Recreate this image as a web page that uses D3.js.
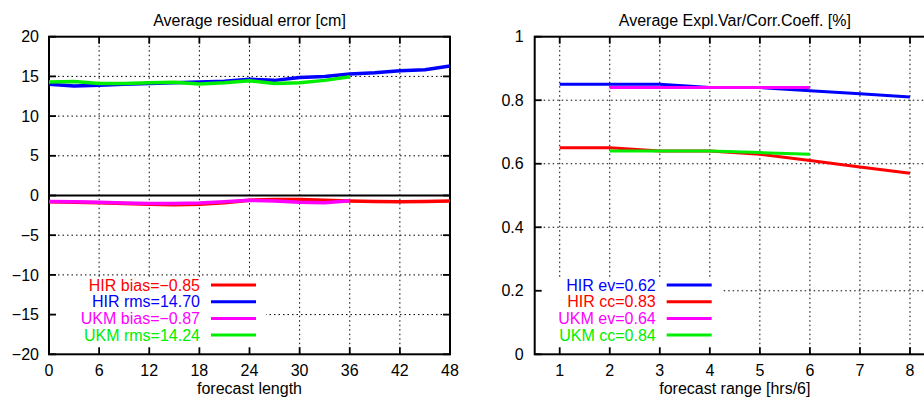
<!DOCTYPE html>
<html>
<head>
<meta charset="utf-8">
<script src="https://cdn.jsdelivr.net/npm/d3@7"></script>
<style>
  body { margin: 0; background: #fff; }
  svg { display: block; font-family: "Liberation Sans", Arial, sans-serif; }
</style>
</head>
<body>
<svg id="chart" width="924" height="397"></svg>
<script>
// ---------------------------------------------------------------------------
// DATA
// ---------------------------------------------------------------------------

// Left panel: forecast length in hours
var hoursHir = [0, 3, 6, 9, 12, 15, 18, 21, 24, 27, 30, 33, 36, 39, 42, 45, 48];
var hoursUkm = [0, 3, 6, 9, 12, 15, 18, 21, 24, 27, 30, 33, 36];
var hirBias = [-0.8, -0.85, -0.9, -1.0, -1.1, -1.15, -1.1, -0.9, -0.6, -0.5, -0.5, -0.6, -0.7, -0.75, -0.8, -0.75, -0.7];
var hirRms = [14.0, 13.8, 13.9, 14.0, 14.1, 14.2, 14.3, 14.4, 14.65, 14.5, 14.85, 15.0, 15.3, 15.45, 15.7, 15.85, 16.3];
var ukmBias = [-0.75, -0.8, -0.85, -0.95, -1.0, -1.0, -0.95, -0.8, -0.6, -0.7, -0.85, -0.9, -0.65];
var ukmRms = [14.3, 14.35, 14.1, 14.1, 14.2, 14.25, 14.05, 14.2, 14.45, 14.1, 14.2, 14.5, 14.95];

var leftXTicks = [0, 6, 12, 18, 24, 30, 36, 42, 48];
var leftYTicks = [-20, -15, -10, -5, 0, 5, 10, 15, 20];
var leftLegend = ["HIR bias=\u22120.85", "HIR rms=14.70", "UKM bias=\u22120.87", "UKM rms=14.24"];

// Right panel: forecast range in 6 hour steps
var rangeHir = [1, 2, 3, 4, 5, 6, 7, 8];
var rangeUkm = [2, 3, 4, 5, 6];
var hirEv = [0.85, 0.85, 0.85, 0.84, 0.84, 0.83, 0.82, 0.81];
var hirCc = [0.65, 0.65, 0.64, 0.64, 0.63, 0.61, 0.59, 0.57];
var ukmEv = [0.84, 0.84, 0.84, 0.84, 0.84];
var ukmCc = [0.64, 0.64, 0.64, 0.635, 0.63];

var rightXTicks = [1, 2, 3, 4, 5, 6, 7, 8];
var rightYTicks = [0, 0.2, 0.4, 0.6, 0.8, 1];
var rightYLabels = ["0", "0.2", "0.4", "0.6", "0.8", "1"];
var rightLegend = ["HIR ev=0.62", "HIR cc=0.83", "UKM ev=0.64", "UKM cc=0.84"];

// ---------------------------------------------------------------------------
// DRAWING
// ---------------------------------------------------------------------------

var svg = d3.select("#chart");
var FONT = 16;

function drawPanel(opt) {
  var x = d3.scaleLinear().domain(opt.xDomain).range([opt.left, opt.right]);
  var y = d3.scaleLinear().domain(opt.yDomain).range([opt.bottom, opt.top]);
  var g = svg.append("g");

  // dotted grid
  opt.xTicks.forEach(function(t) {
    if (t == opt.xDomain[0] || t == opt.xDomain[1]) return;
    g.append("line").attr("x1", x(t)).attr("x2", x(t)).attr("y1", opt.top).attr("y2", opt.bottom)
      .attr("stroke", "#000").attr("stroke-width", 1).attr("stroke-dasharray", "1.5,3");
  });
  opt.yTicks.forEach(function(t) {
    if (t == opt.yDomain[0] || t == opt.yDomain[1]) return;
    g.append("line").attr("x1", opt.left).attr("x2", opt.right).attr("y1", y(t)).attr("y2", y(t))
      .attr("stroke", "#000").attr("stroke-width", 1).attr("stroke-dasharray", "1.5,3");
  });

  // opaque legend box hides the grid
  g.append("rect").attr("x", opt.left).attr("y", opt.legendTop)
    .attr("width", opt.legendRight - opt.left).attr("height", opt.bottom - opt.legendTop)
    .attr("fill", "#fff");

  // zero axis
  if (opt.zeroAxis) {
    g.append("line").attr("x1", opt.left).attr("x2", opt.right).attr("y1", y(0)).attr("y2", y(0))
      .attr("stroke", "#000").attr("stroke-width", 1.8);
  }

  // ticks on all four sides, pointing inwards
  opt.xTicks.forEach(function(t) {
    g.append("line").attr("x1", x(t)).attr("x2", x(t)).attr("y1", opt.bottom).attr("y2", opt.bottom - 7)
      .attr("stroke", "#000").attr("stroke-width", 1.8);
    g.append("line").attr("x1", x(t)).attr("x2", x(t)).attr("y1", opt.top).attr("y2", opt.top + 7)
      .attr("stroke", "#000").attr("stroke-width", 1.8);
  });
  opt.yTicks.forEach(function(t) {
    g.append("line").attr("x1", opt.left).attr("x2", opt.left + 7).attr("y1", y(t)).attr("y2", y(t))
      .attr("stroke", "#000").attr("stroke-width", 1.8);
    g.append("line").attr("x1", opt.right).attr("x2", opt.right - 7).attr("y1", y(t)).attr("y2", y(t))
      .attr("stroke", "#000").attr("stroke-width", 1.8);
  });

  // frame
  g.append("rect").attr("x", opt.left).attr("y", opt.top)
    .attr("width", opt.right - opt.left).attr("height", opt.bottom - opt.top)
    .attr("fill", "none").attr("stroke", "#000").attr("stroke-width", 2);

  // tick labels
  opt.xTicks.forEach(function(t) {
    g.append("text").attr("x", x(t)).attr("y", opt.bottom + 16)
      .attr("dy", "0.35em").attr("text-anchor", "middle")
      .style("font-size", FONT + "px").text(t);
  });
  opt.yTicks.forEach(function(t, i) {
    g.append("text").attr("x", opt.left - opt.yLabelGap).attr("y", y(t))
      .attr("dy", "0.35em").attr("text-anchor", "end")
      .style("font-size", FONT + "px").text(opt.yLabels ? opt.yLabels[i] : d3.format("")(t).replace("-", "\u2212"));
  });

  // titles
  g.append("text").attr("x", (opt.left + opt.right) / 2).attr("y", 20)
    .attr("dy", "0.35em").attr("text-anchor", "middle")
    .style("font-size", FONT + "px").text(opt.title);
  g.append("text").attr("x", (opt.left + opt.right) / 2).attr("y", 388.5)
    .attr("dy", "0.35em").attr("text-anchor", "middle")
    .style("font-size", FONT + "px").text(opt.xLabel);

  // series
  var line = d3.line()
    .x(function(d) { return x(d[0]); })
    .y(function(d) { return y(d[1]); });

  opt.series.forEach(function(s) {
    g.append("path")
      .datum(d3.zip(s.x, s.y))
      .attr("d", line)
      .attr("fill", "none")
      .attr("stroke", s.color)
      .attr("stroke-width", opt.lineWidth)
      .attr("stroke-linejoin", "round");
  });

  // legend
  opt.legendOrder.forEach(function(s, i) {
    var ly = 285 + i * 16.7;
    g.append("text").attr("x", opt.legendText).attr("y", ly)
      .attr("dy", "0.35em").attr("text-anchor", "end")
      .attr("fill", s.color).style("font-size", FONT + "px").text(s.label);
    g.append("line").attr("x1", opt.legendText + 11).attr("x2", opt.legendText + 56)
      .attr("y1", ly).attr("y2", ly)
      .attr("stroke", s.color).attr("stroke-width", 3);
  });
}

// LEFT PANEL -----------------------------------------------------------------
var leftSeries = [
  { x: hoursHir, y: hirBias, color: "#ff0000", label: leftLegend[0] },
  { x: hoursHir, y: hirRms,  color: "#0000ff", label: leftLegend[1] },
  { x: hoursUkm, y: ukmBias, color: "#ff00ff", label: leftLegend[2] },
  { x: hoursUkm, y: ukmRms,  color: "#00ee00", label: leftLegend[3] }
];

drawPanel({
  left: 49, right: 450, top: 36.7, bottom: 354.3,
  xDomain: [0, 48], yDomain: [-20, 20],
  xTicks: leftXTicks, yTicks: leftYTicks,
  yLabelGap: 10,
  zeroAxis: true,
  title: "Average residual error [cm]",
  xLabel: "forecast length",
  series: leftSeries,
  lineWidth: 3.5,
  legendOrder: leftSeries,
  legendText: 200, legendTop: 277, legendRight: 266
});

// RIGHT PANEL ----------------------------------------------------------------
var rightSeries = [
  { x: rangeHir, y: hirEv, color: "#0000ff", label: rightLegend[0] },
  { x: rangeHir, y: hirCc, color: "#ff0000", label: rightLegend[1] },
  { x: rangeUkm, y: ukmEv, color: "#ff00ff", label: rightLegend[2] },
  { x: rangeUkm, y: ukmCc, color: "#00ee00", label: rightLegend[3] }
];

drawPanel({
  left: 534.7, right: 935, top: 36.7, bottom: 354.3,
  xDomain: [0.5, 8.5], yDomain: [0, 1],
  xTicks: rightXTicks, yTicks: rightYTicks, yLabels: rightYLabels,
  yLabelGap: 11,
  zeroAxis: false,
  title: "Average Expl.Var/Corr.Coeff. [%]",
  xLabel: "forecast range [hrs/6]",
  series: rightSeries,
  lineWidth: 3,
  legendOrder: rightSeries,
  legendText: 655.7, legendTop: 277, legendRight: 721
});
</script>
</body>
</html>
